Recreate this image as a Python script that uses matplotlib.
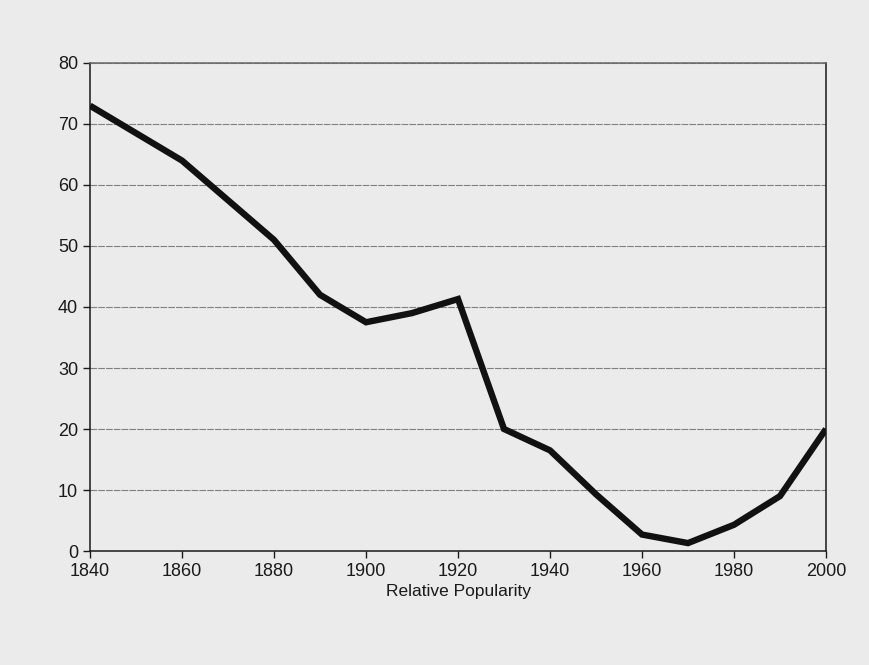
import matplotlib.pyplot as plt

years = [1840, 1850, 1860, 1870, 1880, 1890, 1900, 1910, 1920,
         1930, 1940, 1950, 1960, 1970, 1980, 1990, 2000]
popularity = [73, 68.5, 64, 57.5, 51, 42, 37.5, 39, 41.3,
              20, 16.5, 9.3, 2.7, 1.3, 4.3, 9, 20]
x_ticks = [1840, 1860, 1880, 1900, 1920, 1940, 1960, 1980, 2000]
y_ticks = [0, 10, 20, 30, 40, 50, 60, 70, 80]

plt.rcParams['font.family'] = ['Liberation Sans', 'DejaVu Sans']

fig = plt.figure(figsize=(8.69, 6.65), dpi=100, facecolor='#ebebeb')
ax = fig.add_axes([0.1036, 0.1714, 0.8469, 0.7339])
ax.set_facecolor('#ebebeb')

for v in y_ticks[1:]:
    ax.axhline(v, color='#808080', linewidth=0.8, linestyle=(0, (6, 1)), zorder=1)

ax.plot(years, popularity, color='#111111', linewidth=4.6,
        solid_joinstyle='miter', solid_capstyle='butt', zorder=3)

ax.set_xlim(1840, 2000)
ax.set_ylim(0, 80)
ax.set_xticks(x_ticks)
ax.set_yticks(y_ticks)
ax.tick_params(axis='both', direction='out', length=5, width=1,
               labelsize=13, colors='#1a1a1a')
ax.set_xlabel('Relative Popularity', fontsize=12.5, color='#1a1a1a', labelpad=3)

for s in ax.spines.values():
    s.set_color('#1a1a1a')
    s.set_linewidth(1.1)
ax.spines['top'].set_color('#666666')

fig.savefig('out.png', dpi=100, facecolor=fig.get_facecolor())
